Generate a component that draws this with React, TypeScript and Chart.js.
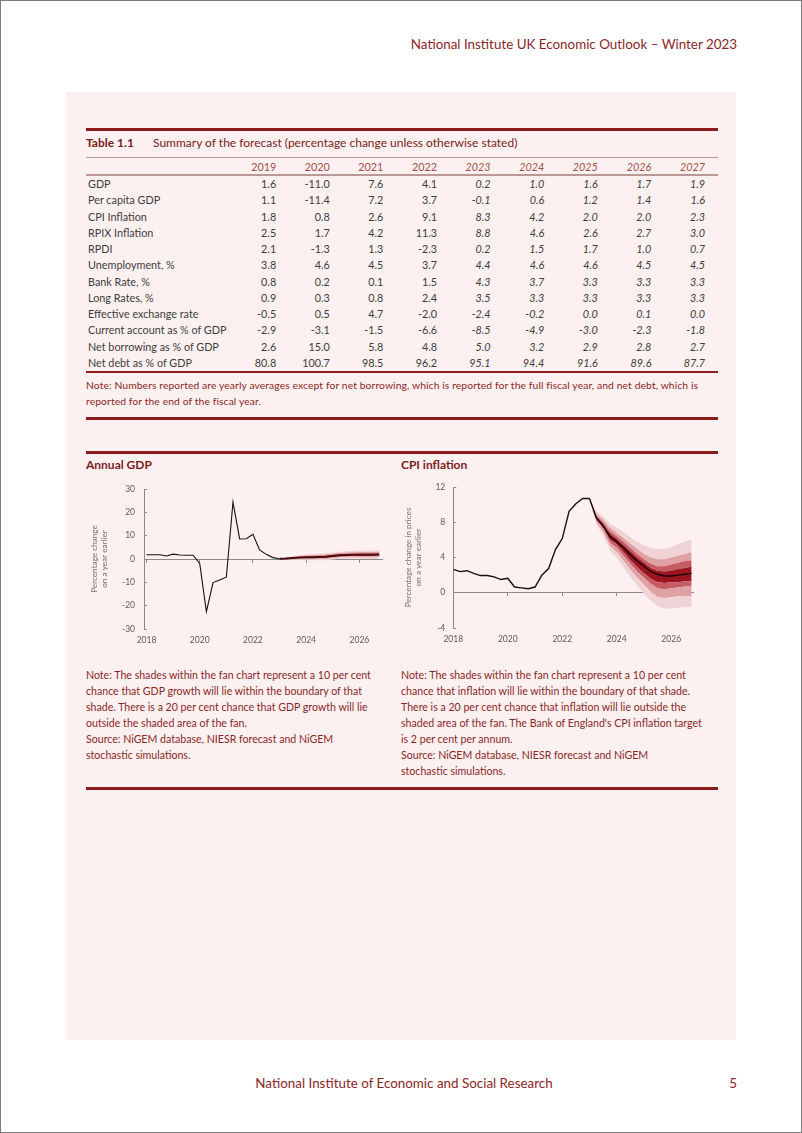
import React, { useEffect, useRef } from 'react';
import { Chart, registerables } from 'chart.js';

Chart.register(...registerables);

const FONT = 'Lato, "Open Sans", sans-serif';
const RED_TEXT = '#8a2626';
const RED_RULE = '#8c1c1c';
const BODY_TEXT = '#3c3c3c';

// ---------------- Table data ----------------
const tableYears = ['2019', '2020', '2021', '2022', '2023', '2024', '2025', '2026', '2027'];
const firstForecastIndex = 4;
const rowLabels = [
  'GDP', 'Per capita GDP', 'CPI Inflation', 'RPIX Inflation', 'RPDI', 'Unemployment, %',
  'Bank Rate, %', 'Long Rates, %', 'Effective exchange rate', 'Current account as % of GDP',
  'Net borrowing as % of GDP', 'Net debt as % of GDP',
];
const gdpRow = ['1.6', '-11.0', '7.6', '4.1', '0.2', '1.0', '1.6', '1.7', '1.9'];
const perCapitaRow = ['1.1', '-11.4', '7.2', '3.7', '-0.1', '0.6', '1.2', '1.4', '1.6'];
const cpiRow = ['1.8', '0.8', '2.6', '9.1', '8.3', '4.2', '2.0', '2.0', '2.3'];
const rpixRow = ['2.5', '1.7', '4.2', '11.3', '8.8', '4.6', '2.6', '2.7', '3.0'];
const rpdiRow = ['2.1', '-1.3', '1.3', '-2.3', '0.2', '1.5', '1.7', '1.0', '0.7'];
const unemploymentRow = ['3.8', '4.6', '4.5', '3.7', '4.4', '4.6', '4.6', '4.5', '4.5'];
const bankRateRow = ['0.8', '0.2', '0.1', '1.5', '4.3', '3.7', '3.3', '3.3', '3.3'];
const longRatesRow = ['0.9', '0.3', '0.8', '2.4', '3.5', '3.3', '3.3', '3.3', '3.3'];
const exchangeRow = ['-0.5', '0.5', '4.7', '-2.0', '-2.4', '-0.2', '0.0', '0.1', '0.0'];
const currentAccountRow = ['-2.9', '-3.1', '-1.5', '-6.6', '-8.5', '-4.9', '-3.0', '-2.3', '-1.8'];
const netBorrowingRow = ['2.6', '15.0', '5.8', '4.8', '5.0', '3.2', '2.9', '2.8', '2.7'];
const netDebtRow = ['80.8', '100.7', '98.5', '96.2', '95.1', '94.4', '91.6', '89.6', '87.7'];
const tableRows = [gdpRow, perCapitaRow, cpiRow, rpixRow, rpdiRow, unemploymentRow, bankRateRow,
  longRatesRow, exchangeRow, currentAccountRow, netBorrowingRow, netDebtRow];

// ---------------- Chart data ----------------
const yearTicks = [2018, 2020, 2022, 2024, 2026];
const histQuarters = [2018, 2018.25, 2018.5, 2018.75, 2019, 2019.25, 2019.5, 2019.75, 2020, 2020.25,
  2020.5, 2020.75, 2021, 2021.25, 2021.5, 2021.75, 2022, 2022.25, 2022.5, 2022.75, 2023];
const forecastQuarters = [2023, 2023.25, 2023.5, 2023.75, 2024, 2024.25, 2024.5, 2024.75, 2025,
  2025.25, 2025.5, 2025.75, 2026, 2026.25, 2026.5, 2026.75];

// Annual GDP (% change on a year earlier)
const gdpHistory = [1.8, 1.8, 1.8, 1.3, 2.1, 1.7, 1.6, 1.6, -1.9, -22.6, -10.1, -9.0, -7.8, 24.4,
  8.6, 8.7, 10.6, 3.9, 2.0, 0.6, 0.1];
const gdpCentral = [0.1, 0.2, 0.4, 0.6, 0.7, 0.8, 0.9, 1.0, 1.3, 1.6, 1.7, 1.8, 1.8, 1.8, 1.8, 1.9];
const gdpP10 = [0.1, -0.3, -0.4, -0.4, -0.5, -0.5, -0.5, -0.5, -0.2, 0.1, 0.1, 0.2, 0.1, 0.1, 0.0, 0.1];
const gdpP20 = [0.1, -0.1, -0.1, -0.1, -0.1, -0.1, 0.0, 0.0, 0.3, 0.6, 0.6, 0.7, 0.6, 0.6, 0.6, 0.7];
const gdpP30 = [0.1, 0.0, 0.1, 0.2, 0.2, 0.3, 0.3, 0.4, 0.7, 1.0, 1.1, 1.2, 1.1, 1.1, 1.1, 1.2];
const gdpP40 = [0.1, 0.1, 0.25, 0.4, 0.45, 0.55, 0.6, 0.7, 1.0, 1.3, 1.4, 1.5, 1.45, 1.45, 1.45, 1.55];
const gdpP60 = [0.1, 0.3, 0.55, 0.8, 0.95, 1.05, 1.2, 1.3, 1.6, 1.9, 2.0, 2.1, 2.15, 2.15, 2.15, 2.25];
const gdpP70 = [0.1, 0.4, 0.7, 1.0, 1.2, 1.3, 1.5, 1.6, 1.9, 2.2, 2.3, 2.4, 2.5, 2.5, 2.5, 2.6];
const gdpP80 = [0.1, 0.5, 0.9, 1.3, 1.5, 1.7, 1.8, 2.0, 2.3, 2.6, 2.8, 2.9, 3.0, 3.0, 3.0, 3.1];
const gdpP90 = [0.1, 0.7, 1.2, 1.6, 1.9, 2.1, 2.3, 2.5, 2.8, 3.1, 3.3, 3.4, 3.5, 3.5, 3.6, 3.7];

// CPI inflation (% change in prices on a year earlier)
const cpiHistory = [2.65, 2.4, 2.5, 2.2, 1.95, 1.95, 1.8, 1.5, 1.65, 0.65, 0.55, 0.45, 0.65, 2.0,
  2.75, 4.9, 6.15, 9.25, 10.1, 10.7, 10.7];
const cpiCentral = [10.7, 8.5, 7.6, 6.4, 5.8, 5.1, 4.3, 3.6, 3.0, 2.4, 2.1, 1.9, 1.9, 2.0, 2.1, 2.2];
const cpiP10 = [10.7, 7.8, 6.5, 4.8, 4.0, 2.9, 1.8, 0.8, -0.1, -0.9, -1.5, -1.8, -1.8, -1.7, -1.6, -1.6];
const cpiP20 = [10.7, 8.0, 6.9, 5.3, 4.6, 3.6, 2.6, 1.7, 0.9, 0.1, -0.5, -0.6, -0.5, -0.4, -0.4, -0.4];
const cpiP30 = [10.7, 8.2, 7.2, 5.7, 5.1, 4.2, 3.3, 2.4, 1.7, 1.0, 0.5, 0.4, 0.5, 0.6, 0.7, 0.7];
const cpiP40 = [10.7, 8.35, 7.4, 6.0, 5.5, 4.6, 3.7, 2.9, 2.2, 1.6, 1.2, 1.1, 1.2, 1.2, 1.3, 1.3];
const cpiP60 = [10.7, 8.65, 7.8, 6.7, 6.1, 5.4, 4.7, 4.0, 3.4, 2.8, 2.5, 2.4, 2.5, 2.7, 2.8, 2.95];
const cpiP70 = [10.7, 8.8, 8.0, 7.0, 6.4, 5.8, 5.1, 4.4, 3.8, 3.3, 3.0, 3.0, 3.2, 3.4, 3.6, 3.7];
const cpiP80 = [10.7, 9.0, 8.3, 7.4, 6.8, 6.2, 5.6, 5.0, 4.4, 4.0, 3.8, 3.8, 4.0, 4.2, 4.4, 4.6];
const cpiP90 = [10.7, 9.2, 8.7, 7.9, 7.4, 6.9, 6.3, 5.8, 5.4, 5.1, 5.0, 5.0, 5.2, 5.5, 5.8, 6.1];

const bandColors = ['#f0d3d4', '#dfa1a5', '#c55c63', '#9b1520'];

type FanProps = {
  left: number; top: number; width: number; height: number; yAxisWidth: number; labelGap: number;
  xMin: number; xMax: number; yMin: number; yMax: number; yStep: number;
  yTitle: string[]; history: number[]; central: number[]; bands: number[][];
  centralColor: string; centralWidth: number; historyWidth: number;
};

const toPoints = (xs: number[], ys: number[]) => ys.map((y, i) => ({ x: xs[i], y }));

function FanChart(p: FanProps) {
  const ref = useRef<HTMLCanvasElement | null>(null);
  useEffect(() => {
    if (!ref.current) return;
    const [b10, b20, b30, b40, b60, b70, b80, b90] = p.bands;
    const band = (data: number[], color: string | null) => ({
      data: toPoints(forecastQuarters, data),
      borderWidth: 0,
      borderColor: 'transparent',
      backgroundColor: color || 'transparent',
      fill: color ? '-1' : false,
      pointRadius: 0,
      xAxisID: 'x', yAxisID: 'y',
    });
    const tickFont = { family: FONT, size: 8.5 };
    const setYearTicks = (s: any) => { s.ticks = yearTicks.map((v) => ({ value: v })); };
    const chart = new Chart(ref.current, {
      type: 'line',
      data: {
        datasets: [
          {
            data: toPoints(histQuarters, p.history), borderColor: '#111111', borderWidth: p.historyWidth,
            pointRadius: 0, fill: false, xAxisID: 'x', yAxisID: 'y',
          } as any,
          {
            data: toPoints(forecastQuarters, p.central), borderColor: p.centralColor, borderWidth: p.centralWidth,
            pointRadius: 0, fill: false, xAxisID: 'x', yAxisID: 'y',
          } as any,
          band(b10, null),
          band(b20, bandColors[0]),
          band(b30, bandColors[1]),
          band(b40, bandColors[2]),
          band(b60, bandColors[3]),
          band(b70, bandColors[2]),
          band(b80, bandColors[1]),
          band(b90, bandColors[0]),
        ],
      },
      options: {
        animation: false,
        responsive: false,
        devicePixelRatio: 1,
        layout: { padding: { top: 13, right: 4, bottom: 0, left: 0 } },
        plugins: { legend: { display: false }, tooltip: { enabled: false } },
        elements: { point: { radius: 0 }, line: { tension: 0 } },
        scales: {
          x: {
            type: 'linear', position: 'bottom', min: p.xMin, max: p.xMax,
            grid: { display: false, drawTicks: false }, border: { display: false },
            ticks: {
              color: '#5a5a5a', font: tickFont, padding: 6, maxRotation: 0, autoSkip: false,
              callback: (v: any) => String(v),
            },
            afterBuildTicks: setYearTicks,
            afterFit: (s: any) => { s.height = 20; },
          },
          x0: {
            type: 'linear', axis: 'x', position: { y: 0 }, min: p.xMin, max: p.xMax,
            grid: { drawOnChartArea: false, drawTicks: true, tickLength: 3, color: '#8a8a8a' },
            border: { display: true, color: '#8a8a8a', width: 1 },
            ticks: { display: false },
            afterBuildTicks: setYearTicks,
          },
          y: {
            type: 'linear', position: 'left', min: p.yMin, max: p.yMax,
            ticks: { stepSize: p.yStep, color: '#5a5a5a', font: tickFont, padding: p.labelGap + 3 },
            grid: { drawOnChartArea: false, drawTicks: true, tickLength: -3, color: '#8a8a8a' },
            border: { display: true, color: '#8a8a8a', width: 1 },
            title: {
              display: true, text: p.yTitle, color: '#737373',
              font: { family: FONT, size: 8.2, lineHeight: 1.22 }, padding: { top: 3, bottom: 0 },
            },
            afterFit: (s: any) => {
              s.width = p.yAxisWidth;
              s.paddingTop = 6;
              s.paddingBottom = 6;
            },
          },
        },
      } as any,
    });
    return () => chart.destroy();
  }, []);
  return (
    <canvas
      ref={ref}
      width={p.width}
      height={p.height}
      style={{ position: 'absolute', left: p.left, top: p.top, width: p.width, height: p.height }}
    />
  );
}

type TProps = {
  x?: number; right?: number; y: number; size?: number; color?: string; bold?: boolean;
  italic?: boolean; w?: number; align?: 'left' | 'right' | 'center'; spacing?: number;
  children: React.ReactNode;
};

function T({ x, right, y, size = 10.8, color = BODY_TEXT, bold, italic, w, align = 'left', spacing, children }: TProps) {
  const lh = 16;
  const style: React.CSSProperties = {
    position: 'absolute', top: y - lh / 2, lineHeight: `${lh}px`, height: lh, fontSize: size,
    color, fontWeight: bold ? 700 : 400, fontStyle: italic ? 'italic' : 'normal', whiteSpace: 'nowrap',
    textAlign: align, fontFamily: FONT, letterSpacing: spacing ? `${spacing}px` : undefined,
  };
  if (right !== undefined) { style.left = right - (w || 60); style.width = w || 60; style.textAlign = 'right'; }
  else { style.left = x; if (w) style.width = w; }
  return <div style={style}>{children}</div>;
}

function Rule({ y, h, color }: { y: number; h: number; color: string }) {
  return <div style={{ position: 'absolute', left: 85, width: 632, top: y - h / 2, height: h, background: color }} />;
}

const tableNoteLines = [
  'Note: Numbers reported are yearly averages except for net borrowing, which is reported for the full fiscal year, and net debt, which is',
  'reported for the end of the fiscal year.',
];
const gdpNoteLines = [
  'Note: The shades within the fan chart represent a 10 per cent',
  'chance that GDP growth will lie within the boundary of that',
  'shade. There is a 20 per cent chance that GDP growth will lie',
  'outside the shaded area of the fan.',
  'Source: NiGEM database, NIESR forecast and NiGEM',
  'stochastic simulations.',
];
const cpiNoteLines = [
  'Note: The shades within the fan chart represent a 10 per cent',
  'chance that inflation will lie within the boundary of that shade.',
  'There is a 20 per cent chance that inflation will lie outside the',
  "shaded area of the fan. The Bank of England's CPI inflation target",
  'is 2 per cent per annum.',
  'Source: NiGEM database, NIESR forecast and NiGEM',
  'stochastic simulations.',
];

const NOTE_SIZE = 10.6;

export default function App() {
  const colRight = (j: number) => 704 - (8 - j) * 53.6;
  const rowY = (i: number) => 183 + i * 16.27;
  return (
    <div
      style={{
        position: 'absolute', left: 0, top: 0, width: 802, height: 1133, boxSizing: 'border-box',
        border: '1px solid #7d7d7d', background: '#ffffff', fontFamily: FONT, overflow: 'hidden',
      }}
    >
      <T right={736} w={500} y={43} size={13.4} color={RED_TEXT}>
        National Institute UK Economic Outlook – Winter 2023
      </T>

      <div style={{ position: 'absolute', left: 65, top: 91, width: 670, height: 948, background: '#fcf1f0' }} />

      {/* Table */}
      <Rule y={128} h={3} color={RED_RULE} />
      <T x={85} y={142} size={12} bold color="#7a1c1c">Table 1.1</T>
      <T x={152} y={142} size={12} color="#7a1c1c">Summary of the forecast (percentage change unless otherwise stated)</T>
      <Rule y={156.5} h={1.5} color="#b99896" />
      {tableYears.map((yr, j) => (
        <T key={yr} right={colRight(j)} y={166} color="#a24f49" italic={j >= firstForecastIndex}>{yr}</T>
      ))}
      <Rule y={174} h={1.5} color="#b99896" />
      {rowLabels.map((lab, i) => (
        <React.Fragment key={lab}>
          <T x={87} y={rowY(i)}>{lab}</T>
          {tableRows[i].map((v, j) => (
            <T key={j} right={colRight(j)} y={rowY(i)} italic={j >= firstForecastIndex}>{v}</T>
          ))}
        </React.Fragment>
      ))}
      <Rule y={370.5} h={2} color={RED_RULE} />
      {tableNoteLines.map((l, i) => (
        <T key={i} x={85} y={384 + i * 16} size={10.3} spacing={0.11} color={RED_TEXT}>{l}</T>
      ))}
      <Rule y={417} h={3} color={RED_RULE} />

      {/* Charts */}
      <Rule y={451} h={3} color={RED_RULE} />
      <T x={85} y={464} size={12} bold color="#7a1c1c">Annual GDP</T>
      <T x={400} y={464} size={12} bold color="#7a1c1c">CPI inflation</T>

      <FanChart
        left={85} top={475} width={300} height={173} yAxisWidth={58} labelGap={9}
        xMin={2017.906} xMax={2026.85} yMin={-30} yMax={30} yStep={10}
        yTitle={['Percentage change', 'on a year earlier']}
        history={gdpHistory} central={gdpCentral}
        bands={[gdpP10, gdpP20, gdpP30, gdpP40, gdpP60, gdpP70, gdpP80, gdpP90]}
        centralColor="#4a0a0e" centralWidth={2} historyWidth={1.1}
      />
      <FanChart
        left={399} top={473} width={297} height={174} yAxisWidth={53.3} labelGap={8}
        xMin={2018} xMax={2026.8} yMin={-4} yMax={12} yStep={4}
        yTitle={['Percentage change in prices', 'on a year earlier']}
        history={cpiHistory} central={cpiCentral}
        bands={[cpiP10, cpiP20, cpiP30, cpiP40, cpiP60, cpiP70, cpiP80, cpiP90]}
        centralColor="#1a0304" centralWidth={1.4} historyWidth={1.4}
      />

      {gdpNoteLines.map((l, i) => (
        <T key={i} x={85} y={674 + i * 16} size={NOTE_SIZE} color={RED_TEXT}>{l}</T>
      ))}
      {cpiNoteLines.map((l, i) => (
        <T key={i} x={400} y={674 + i * 16} size={NOTE_SIZE} color={RED_TEXT}>{l}</T>
      ))}
      <Rule y={787} h={3} color={RED_RULE} />

      <T x={200} w={406} align="center" y={1082} size={13.4} color={RED_TEXT}>
        National Institute of Economic and Social Research
      </T>
      <T right={736} w={30} y={1082} size={13.4} color={RED_TEXT}>5</T>
    </div>
  );
}
